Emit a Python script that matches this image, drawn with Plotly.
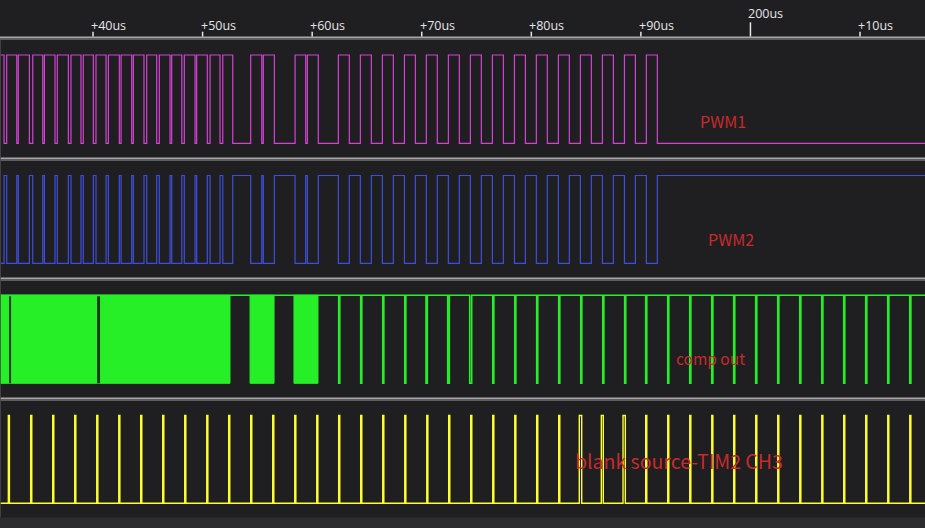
import plotly.graph_objects as go

# ---------------- data (times in microseconds) ----------------
tick_times = [140, 150, 160, 170, 180, 190, 200, 210]
tick_labels = ["+40us", "+50us", "+60us", "+70us", "+80us", "+90us", "200us", "+10us"]
major_tick = 200

view_start = 131.51
view_end = 215.93

# PWM1 low intervals (start, end); None = stays low
pwm1_low = [
    (131.88, 132.12), (133.04, 133.18), (134.19, 134.50), (135.41, 135.56),
    (136.53, 136.74), (137.75, 137.99), (138.90, 139.11), (140.03, 140.27),
    (141.19, 141.40), (142.40, 142.56), (143.53, 143.68), (144.65, 144.90),
    (145.81, 146.05), (147.03, 147.18), (148.10, 148.33), (149.31, 149.46),
    (150.43, 150.68), (151.59, 151.84), (152.75, 154.39), (155.40, 155.54),
    (156.55, 158.44), (159.41, 159.56), (160.56, 162.39), (163.39, 164.40),
    (165.40, 166.41), (167.41, 168.42), (169.42, 170.42), (171.42, 172.43),
    (173.43, 174.44), (175.44, 176.45), (177.45, 178.46), (179.46, 180.46),
    (181.46, 182.47), (183.47, 184.48), (185.48, 186.49), (187.49, 188.50),
    (189.50, 190.50), (191.50, None),
]
# PWM2 is read as the complement of PWM1 (high where PWM1 is low)
pwm2_high = pwm1_low

# comp out: dense toggling bursts, quiet gaps inside bursts, then low dips
comp_bursts = [(131.51, 152.50), (154.33, 156.52), (158.34, 160.53)]
comp_quiet = [(132.33, 132.52), (140.37, 140.64)]
comp_dips = [
    (162.42, 162.52), (164.43, 164.53), (166.44, 166.54), (168.45, 168.55),
    (170.39, 170.51), (172.37, 172.52), (174.38, 174.56), (176.48, 176.58),
    (178.49, 178.59), (180.49, 180.59), (182.50, 182.60), (184.51, 184.61),
    (186.52, 186.62), (188.52, 188.62), (190.44, 190.54), (192.45, 192.55),
    (194.46, 194.56), (196.47, 196.57), (198.47, 198.57), (200.48, 200.58),
    (202.49, 202.59), (204.50, 204.60), (206.51, 206.61), (208.51, 208.61),
    (210.52, 210.62), (212.53, 212.63), (214.54, 214.64),
]

# blank source (TIM2 CH3): high pulses (start, end)
blank_pulses = [
    (132.27, 132.37), (134.31, 134.41), (136.32, 136.42), (138.33, 138.43),
    (140.34, 140.44), (142.35, 142.45), (144.35, 144.45), (146.36, 146.46),
    (148.37, 148.47), (150.38, 150.48), (152.38, 152.48), (154.39, 154.49),
    (156.40, 156.50), (158.41, 158.51), (160.42, 160.52), (162.42, 162.52),
    (164.43, 164.53), (166.44, 166.54), (168.45, 168.55), (170.46, 170.56),
    (172.46, 172.56), (174.47, 174.57), (176.48, 176.58), (178.49, 178.59),
    (180.49, 180.59), (182.50, 182.60), (184.38, 184.60), (186.39, 186.57),
    (188.37, 188.58), (190.44, 190.54), (192.45, 192.55), (194.46, 194.56),
    (196.47, 196.57), (198.47, 198.57), (200.48, 200.58), (202.49, 202.59),
    (204.50, 204.60), (206.51, 206.61), (208.51, 208.61), (210.52, 210.62),
    (212.53, 212.63), (214.54, 214.64),
]

channel_names = ["PWM1", "PWM2", "comp out", "blank source-TIM2 CH3"]

# ---------------- styling / layout ----------------
W, H = 925, 528
BG = "#1f1f22"
colors = ["#d442d4", "#3e4edb", "#27ef27", "#ffff30"]
hi_y = [55.0, 175.5, 295.3, 415.5]
lo_y = [143.3, 263.3, 383.3, 503.3]
sep_y = [36.5, 157.5, 277.5, 397.5]
label_pos = [(197.45, 121, 16), (198.2, 239, 16), (196.31, 358, 15.5), (193.5, 460, 19.5)]


def step_trace(intervals, base_high, hi, lo):
    """intervals: list of (a, b) where the level flips away from base and back."""
    base = hi if base_high else lo
    other = lo if base_high else hi
    xs, ys = [view_start], [base]
    last = base
    for a, b in intervals:
        xs.append(a); ys.append(other); last = other
        if b is not None:
            xs.append(b); ys.append(base); last = base
    xs.append(view_end); ys.append(last)
    return xs, ys


fig = go.Figure()

# lane 0: PWM1 (high with low intervals)
x, y = step_trace(pwm1_low, True, hi_y[0], lo_y[0])
fig.add_trace(go.Scatter(x=x, y=y, mode="lines", line=dict(color=colors[0], width=1.2, shape="hv"),
                         hoverinfo="skip", showlegend=False))
# lane 1: PWM2 (low with high intervals)
x, y = step_trace(pwm2_high, False, hi_y[1], lo_y[1])
fig.add_trace(go.Scatter(x=x, y=y, mode="lines", line=dict(color=colors[1], width=1.2, shape="hv"),
                         hoverinfo="skip", showlegend=False))
# lane 2: comp out bursts (filled) + dips
for a, b in comp_bursts:
    fig.add_trace(go.Scatter(x=[a, b, b, a, a], y=[hi_y[2], hi_y[2], lo_y[2], lo_y[2], hi_y[2]],
                             mode="lines", fill="toself", fillcolor=colors[2],
                             line=dict(color=colors[2], width=1), hoverinfo="skip", showlegend=False))
for a, b in comp_quiet:
    fig.add_trace(go.Scatter(x=[a, b, b, a, a], y=[hi_y[2] + 1, hi_y[2] + 1, lo_y[2], lo_y[2], hi_y[2] + 1],
                             mode="lines", fill="toself", fillcolor="#153a15",
                             line=dict(color="#153a15", width=0), hoverinfo="skip", showlegend=False))
x, y = step_trace(comp_dips, True, hi_y[2], lo_y[2])
fig.add_trace(go.Scatter(x=x, y=y, mode="lines", line=dict(color=colors[2], width=1.6, shape="hv"),
                         hoverinfo="skip", showlegend=False))
# lane 3: blank source
x, y = step_trace(blank_pulses, False, hi_y[3], lo_y[3])
fig.add_trace(go.Scatter(x=x, y=y, mode="lines", line=dict(color=colors[3], width=1.4, shape="hv"),
                         hoverinfo="skip", showlegend=False))

shapes = []
# separators
for sy in sep_y:
    shapes.append(dict(type="rect", xref="paper", yref="y", x0=0, x1=1, y0=sy, y1=sy + 1.5,
                       fillcolor="#a6a6a6", line=dict(width=0), layer="below"))
    shapes.append(dict(type="rect", xref="paper", yref="y", x0=0, x1=1, y0=sy + 1.5, y1=sy + 3.5,
                       fillcolor="#5c5c5e", line=dict(width=0), layer="below"))
# bottom strip
shapes.append(dict(type="rect", xref="paper", yref="y", x0=0, x1=1, y0=517.5, y1=H,
                   fillcolor="#2c2c2e", line=dict(width=0), layer="below"))
# left frame line
shapes.append(dict(type="line", xref="x", yref="y", x0=view_start + 0.03, x1=view_start + 0.03,
                   y0=40, y1=517.5, line=dict(color="#4a4a4c", width=1)))
# ticks
annotations = []
for t, lab in zip(tick_times, tick_labels):
    if t == major_tick:
        shapes.append(dict(type="line", xref="x", yref="y", x0=t, x1=t, y0=22.3, y1=36.5,
                           line=dict(color="#e6e6e6", width=1.5)))
        annotations.append(dict(x=t, y=13, xref="x", yref="y", text=lab, showarrow=False,
                                xanchor="left", xshift=-4, yanchor="middle",
                                font=dict(color="#e6e6e6", size=12.5, family="Open Sans")))
    else:
        shapes.append(dict(type="line", xref="x", yref="y", x0=t, x1=t, y0=31.7, y1=36.5,
                           line=dict(color="#e6e6e6", width=1.5)))
        annotations.append(dict(x=t, y=25, xref="x", yref="y", text=lab, showarrow=False,
                                xanchor="left", xshift=-4, yanchor="middle",
                                font=dict(color="#e6e6e6", size=12.5, family="Open Sans")))
# channel labels
for name, (lx, ly, fs) in zip(channel_names, label_pos):
    annotations.append(dict(x=lx, y=ly, xref="x", yref="y", text=name, showarrow=False,
                            xanchor="center", yanchor="middle",
                            font=dict(color="#c92a2a", size=fs, family="Noto Sans CJK SC")))

fig.update_layout(
    width=W, height=H,
    margin=dict(l=0, r=0, t=0, b=0),
    paper_bgcolor=BG, plot_bgcolor=BG,
    xaxis=dict(range=[view_start, view_end], visible=False, showgrid=False, zeroline=False, fixedrange=True),
    yaxis=dict(range=[H, 0], visible=False, showgrid=False, zeroline=False, fixedrange=True),
    shapes=shapes, annotations=annotations,
    showlegend=False,
)

fig.write_html("out.html")
